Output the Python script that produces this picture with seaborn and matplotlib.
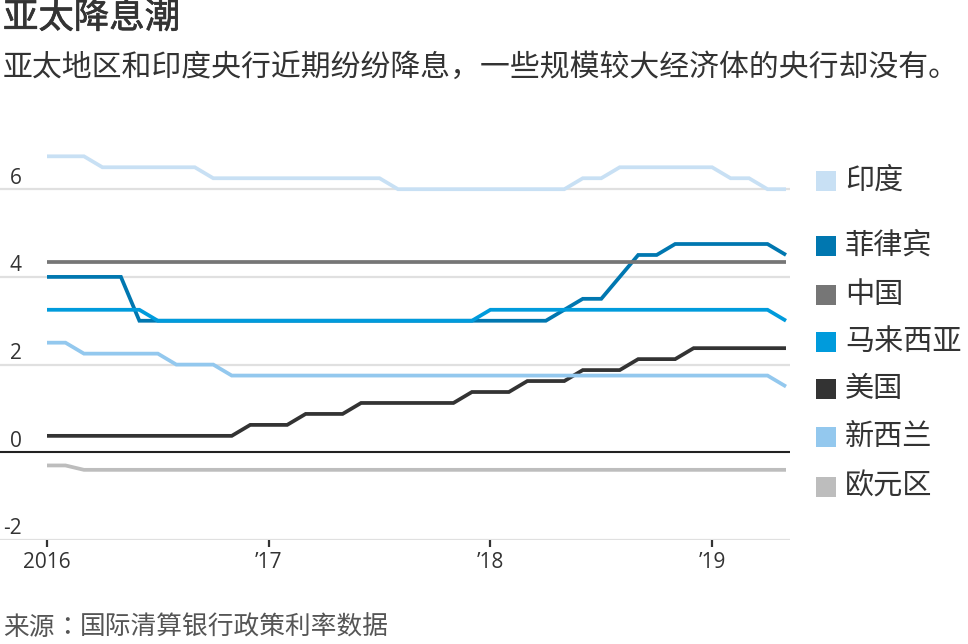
import numpy as np
import pandas as pd
import matplotlib
matplotlib.use("Agg")
import matplotlib.pyplot as plt
import matplotlib.transforms as mtransforms
import matplotlib.patheffects as pe
from matplotlib.patches import Rectangle
import seaborn as sns

# ---------------- data ----------------
title = "亚太降息潮"
subtitle = "亚太地区和印度央行近期纷纷降息，一些规模较大经济体的央行却没有。"
source_head = "来源"
source_colon = "："
source_body = "国际清算银行政策利率数据"

months = pd.date_range("2016-01-01", "2019-05-01", freq="MS")  # Jan 2016 .. May 2019

india = [6.75]*3 + [6.5]*6 + [6.25]*10 + [6.0]*10 + [6.25]*2 + [6.5]*6 + [6.25]*2 + [6.0]*2
philippines = [4.0]*5 + [3.0]*23 + [3.25] + [3.5]*2 + [4.0] + [4.5]*2 + [4.75]*6 + [4.5]
china = [4.35]*41
malaysia = [3.25]*6 + [3.0]*18 + [3.25]*16 + [3.0]
usa = [0.375]*11 + [0.625]*3 + [0.875]*3 + [1.125]*6 + [1.375]*3 + [1.625]*3 + [1.875]*3 + [2.125]*3 + [2.375]*6
nz = [2.5]*2 + [2.25]*5 + [2.0]*3 + [1.75]*30 + [1.5]
euro = [-0.3]*2 + [-0.4]*39

series_names = ["印度", "菲律宾", "中国", "马来西亚", "美国", "新西兰", "欧元区"]
series_values = [india, philippines, china, malaysia, usa, nz, euro]
colors = ["#c8e0f4", "#0077b0", "#767676", "#009bdc", "#333333", "#93c8ee", "#bdbdbd"]

yticks = [-2, 0, 2, 4, 6]
ytick_labels = ["-2", "0", "2", "4", "6"]
xtick_dates = ["2016-01-01", "2017-01-01", "2018-01-01", "2019-01-01"]
xtick_labels = ["2016", "’17", "’18", "’19"]

# ---------------- frame ----------------
month_idx = np.arange(len(months))
rows = []
for name, vals in zip(series_names, series_values):
    for i, v in zip(month_idx, vals):
        rows.append({"month": i, "rate": v, "country": name})
df = pd.DataFrame(rows)
xtick_pos = [months.get_loc(pd.Timestamp(d)) for d in xtick_dates]

# ---------------- style ----------------
sns.set_theme(style="white")
plt.rcParams["font.family"] = ["Noto Sans CJK SC", "DejaVu Sans"]
TXT = "#333333"
NUM_FONT = ["Open Sans", "DejaVu Sans"]

W, H = 968, 644
fig = plt.figure(figsize=(W / 100, H / 100), dpi=100)
ax_left, ax_right, ax_top, ax_bottom = 0, 790, 130, 540
ax = fig.add_axes([ax_left / W, (H - ax_bottom) / H, (ax_right - ax_left) / W, (ax_bottom - ax_top) / H])

month_px = 221.7 / 12
x0_px = 47
ax.set_xlim(-(x0_px - ax_left) / month_px, (ax_right - x0_px) / month_px)
unit_px = 43.85
ax.set_ylim(-2, -2 + (ax_bottom - ax_top) / unit_px)

# gridlines
for yv in yticks:
    if yv == 0:
        ax.axhline(yv, color="#222222", lw=1.5, zorder=1)
    else:
        ax.axhline(yv, color="#e0e0e0", lw=1.6, zorder=0)

sns.lineplot(data=df, x="month", y="rate", hue="country", hue_order=series_names,
             palette=dict(zip(series_names, colors)), linewidth=2.7, legend=False,
             ax=ax, zorder=3)
for line in ax.get_lines():
    line.set_solid_joinstyle("miter")
    line.set_solid_capstyle("butt")

for s in ax.spines.values():
    s.set_visible(False)
ax.set_xlabel("")
ax.set_ylabel("")
ax.set_yticks([])
ax.set_xticks(xtick_pos)
ax.set_xticklabels(xtick_labels, fontsize=15, color=TXT, family=NUM_FONT)
ax.tick_params(axis="x", length=5, width=1.6, color="#333333", pad=4, direction="out", bottom=True)

# y labels drawn inside at left, above gridlines
trans = mtransforms.blended_transform_factory(ax.transAxes, ax.transData)
trans = mtransforms.offset_copy(trans, fig=fig, x=0, y=4, units="points")
for yv, lab in zip(yticks, ytick_labels):
    ax.text(22 / (ax_right - ax_left), yv, lab, transform=trans, ha="right", va="baseline",
            fontsize=15, color=TXT, family=NUM_FONT)

# titles
fig.text(3 / W, 1 - 18 / H, title, fontsize=25.5, color=TXT, ha="left", va="center",
         path_effects=[pe.withStroke(linewidth=0.5, foreground=TXT)])
fig.text(3 / W, 1 - 67 / H, subtitle, fontsize=21.5, color=TXT, ha="left", va="center")
fs_src = 18.5
cw = fs_src * 100 / 72
fig.text(3 / W, 1 - 628 / H, source_head, fontsize=fs_src, color="#555555", ha="left", va="center")
fig.text((3 + 2 * cw) / W, 1 - 628 / H, source_colon, fontsize=fs_src, color="#555555", ha="left",
         va="center", family=["Noto Sans CJK TC"])
fig.text((3 + 3 * cw) / W, 1 - 628 / H, source_body, fontsize=fs_src, color="#555555", ha="left", va="center")

# legend
legend_y = [181, 246, 295, 342, 389, 437, 487]
for name, col, yy in zip(series_names, colors, legend_y):
    fig.patches.append(Rectangle((816 / W, 1 - (yy + 10) / H), 20 / W, 20 / H,
                                 transform=fig.transFigure, facecolor=col, edgecolor="none"))
    fig.text(845 / W, 1 - yy / H, name, fontsize=21, color=TXT, ha="left", va="center")

fig.savefig("out.png", dpi=100, facecolor="white")
